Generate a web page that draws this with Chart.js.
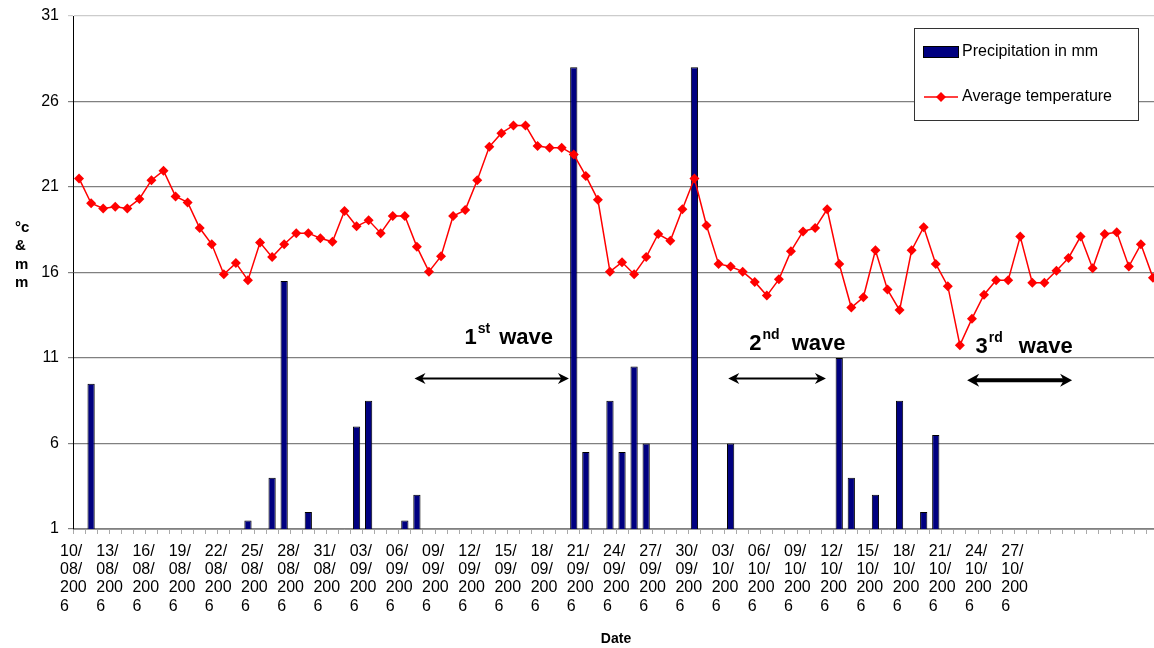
<!DOCTYPE html>
<html>
<head>
<meta charset="utf-8">
<script src="https://cdn.jsdelivr.net/npm/chart.js@4.4.1/dist/chart.umd.min.js"></script>
<style>
  html, body { margin: 0; padding: 0; background: #fff; overflow: hidden; }
  #wrap { position: absolute; left: 0; top: 0; width: 1164px; height: 648px; }
</style>
</head>
<body>
<div id="wrap"><canvas id="myChart"></canvas></div>
<script>
// days from 10/08/2006, one category per day
const firstDay = new Date(2006, 7, 10);
const dayCount = 90;
const lastLabelled = 78; // 27/10/2006, the last date written under the axis

const precipitation = [
  0, 9.5, 0, 0, 0, 0, 0, 0, 0, 0,
  0, 0, 0, 0, 1.5, 0, 4, 15.5, 0, 2,
  0, 0, 0, 7, 8.5, 0, 0, 1.5, 3, 0,
  0, 0, 0, 0, 0, 0, 0, 0, 0, 0,
  0, 28, 5.5, 0, 8.5, 5.5, 10.5, 6, 0, 0,
  0, 28, 0, 0, 6, 0, 0, 0, 0, 0,
  0, 0, 0, 11, 4, 0, 3, 0, 8.5, 0,
  2, 6.5, 0, 0, 0, 0, 0, 0, 0, 0,
  0, 0, 0, 0, 0, 0, 0, 0, 0, 0
];

const temperature = [
  21.5, 20.05, 19.75, 19.85, 19.75, 20.3, 21.4, 21.95, 20.45, 20.1,
  18.6, 17.65, 15.9, 16.55, 15.55, 17.75, 16.9, 17.65, 18.3, 18.3,
  18.0, 17.8, 19.6, 18.7, 19.05, 18.3, 19.3, 19.3, 17.5, 16.05,
  16.95, 19.3, 19.65, 21.4, 23.35, 24.15, 24.6, 24.6, 23.4, 23.3,
  23.3, 22.9, 21.65, 20.25, 16.05, 16.6, 15.9, 16.9, 18.25, 17.85,
  19.7, 21.5, 18.75, 16.5, 16.35, 16.05, 15.45, 14.65, 15.6, 17.25,
  18.4, 18.6, 19.7, 16.5, 13.95, 14.55, 17.3, 15.0, 13.8, 17.3,
  18.65, 16.5, 15.2, 11.75, 13.3, 14.7, 15.55, 15.55, 18.1, 15.4,
  15.4, 16.1, 16.85, 18.1, 16.25, 18.25, 18.35, 16.35, 17.65, 15.7
];

const yTicks = [1, 6, 11, 16, 21, 26, 31];
const yTitleLines = ['°c', '&', 'm', 'm'];

// wave notes: text and double arrow, placed in category / value units
const waves = [
  { num: '1', sup: 'st', at: 31.95, textY: 11.8, gap: 9, from: 27.8, to: 40.6, arrowY: 9.8, lw: 2 },
  { num: '2', sup: 'nd', at: 55.55, textY: 11.45, gap: 12, from: 53.8, to: 61.9, arrowY: 9.8, lw: 2 },
  { num: '3', sup: 'rd', at: 74.3, textY: 11.3, gap: 16, from: 73.6, to: 82.3, arrowY: 9.7, lw: 4 }
];

const dates = [];
for (let i = 0; i < dayCount; i++) {
  const d = new Date(firstDay.getFullYear(), firstDay.getMonth(), firstDay.getDate() + i);
  const dd = String(d.getDate()).padStart(2, '0');
  const mm = String(d.getMonth() + 1).padStart(2, '0');
  dates.push(dd + '/' + mm + '/' + d.getFullYear());
}

const FONT = '"Liberation Sans", Arial, sans-serif';

function drawArrow(ctx, x1, x2, yy, lw) {
  const head = lw > 3 ? 12 : 11, half = lw > 3 ? 6.5 : 5.5;
  ctx.lineWidth = lw;
  ctx.beginPath();
  ctx.moveTo(x1 + head * 0.6, yy);
  ctx.lineTo(x2 - head * 0.6, yy);
  ctx.stroke();
  [[x1, 1], [x2, -1]].forEach(([px, d]) => {
    ctx.beginPath();
    ctx.moveTo(px, yy);
    ctx.lineTo(px + d * head, yy - half);
    ctx.lineTo(px + d * head * 0.7, yy);
    ctx.lineTo(px + d * head, yy + half);
    ctx.closePath();
    ctx.fill();
  });
}

const overlay = {
  id: 'overlay',
  afterDraw(chart) {
    const { ctx, chartArea } = chart;
    const x = chart.scales.x, y = chart.scales.y;
    ctx.save();
    ctx.fillStyle = '#000';
    ctx.strokeStyle = '#000';

    // y title, stacked
    ctx.font = 'bold 15px ' + FONT;
    ctx.textAlign = 'left';
    ctx.textBaseline = 'alphabetic';
    yTitleLines.forEach((t, k) => ctx.fillText(t, 15, 232 + k * 18.4));

    // waves
    waves.forEach(w => {
      const tx = x.getPixelForValue(w.at);
      const ty = y.getPixelForValue(w.textY);
      ctx.font = 'bold 22px ' + FONT;
      ctx.fillText(w.num, tx, ty);
      let cx = tx + ctx.measureText(w.num).width + 1;
      ctx.font = 'bold 14px ' + FONT;
      ctx.fillText(w.sup, cx, ty - 11);
      cx += ctx.measureText(w.sup).width + w.gap;
      ctx.font = 'bold 22px ' + FONT;
      ctx.fillText('wave', cx, ty);
      drawArrow(ctx, x.getPixelForValue(w.from), x.getPixelForValue(w.to), y.getPixelForValue(w.arrowY), w.lw);
    });

    // legend box inside the plot
    const ds = chart.data.datasets;
    const bx = chartArea.right - 245, by = chartArea.top + 12;
    ctx.fillStyle = '#fff';
    ctx.fillRect(bx, by, 224, 92);
    ctx.strokeStyle = '#333';
    ctx.lineWidth = 1;
    ctx.strokeRect(bx + 0.5, by + 0.5, 224, 92);

    ctx.fillStyle = ds[0].backgroundColor;
    ctx.fillRect(bx + 9, by + 18, 36, 12);
    ctx.strokeStyle = '#000';
    ctx.strokeRect(bx + 9.5, by + 18.5, 35, 11);

    const ly = by + 69;
    ctx.strokeStyle = ds[1].borderColor;
    ctx.lineWidth = 1.5;
    ctx.beginPath();
    ctx.moveTo(bx + 10, ly);
    ctx.lineTo(bx + 44, ly);
    ctx.stroke();
    ctx.fillStyle = ds[1].borderColor;
    ctx.beginPath();
    ctx.moveTo(bx + 27, ly - 5);
    ctx.lineTo(bx + 32, ly);
    ctx.lineTo(bx + 27, ly + 5);
    ctx.lineTo(bx + 22, ly);
    ctx.closePath();
    ctx.fill();

    ctx.fillStyle = '#000';
    ctx.font = '16px ' + FONT;
    ctx.textBaseline = 'middle';
    ctx.fillText(ds[0].label, bx + 48, by + 24);
    ctx.fillText(ds[1].label, bx + 48, ly);
    ctx.restore();
  }
};

new Chart(document.getElementById('myChart'), {
  type: 'bar',
  data: {
    labels: dates,
    datasets: [{
      type: 'bar',
      label: 'Precipitation in mm',
      data: precipitation,
      backgroundColor: '#000080',
      borderColor: '#000000',
      borderWidth: 1,
      barPercentage: 0.6,
      categoryPercentage: 1,
      order: 2
    }, {
      type: 'line',
      label: 'Average temperature',
      data: temperature,
      borderColor: '#ff0000',
      backgroundColor: '#ff0000',
      borderWidth: 1.5,
      pointStyle: 'rectRot',
      pointRadius: 5,
      pointBorderWidth: 0,
      tension: 0,
      order: 1
    }]
  },
  options: {
    responsive: true,
    maintainAspectRatio: false,
    animation: false,
    layout: { padding: { top: 16, right: 1, bottom: 0, left: 0 } },
    plugins: { legend: { display: false }, tooltip: { enabled: false } },
    scales: {
      x: {
        offset: true,
        afterFit: s => { s.height = 119; },
        grid: { offset: true, drawOnChartArea: false, tickLength: 5, color: '#aaa' },
        border: { color: '#999', dash: [3, 2] },
        ticks: {
          autoSkip: false,
          maxRotation: 0,
          minRotation: 0,
          align: 'start',
          labelOffset: -19,
          padding: 8,
          color: '#000',
          font: { family: FONT, size: 16, lineHeight: 1.15 },
          callback: function (v, i) {
            if (i % 3 !== 0 || i > lastLabelled) return '';
            const p = dates[i].split('/');
            return [p[0] + '/', p[1] + '/', p[2].slice(0, 3), p[2].slice(3)];
          }
        },
        title: {
          display: true,
          text: 'Date',
          color: '#000',
          padding: { top: 0, bottom: 0 },
          font: { family: FONT, size: 14, weight: 'bold' }
        }
      },
      y: {
        min: 1,
        max: 31,
        afterFit: s => { s.width = 73; s.paddingTop = 0; s.paddingBottom = 0; },
        afterBuildTicks: s => { s.ticks = yTicks.map(v => ({ value: v })); },
        grid: {
          color: c => c.tick && c.tick.value === 31 ? '#cccccc' : '#808080',
          lineWidth: 1.2,
          tickLength: 5
        },
        border: { color: '#000', width: 1 },
        ticks: {
          padding: 9,
          color: '#000',
          font: { family: FONT, size: 16 }
        }
      }
    }
  },
  plugins: [overlay]
});
</script>
</body>
</html>
